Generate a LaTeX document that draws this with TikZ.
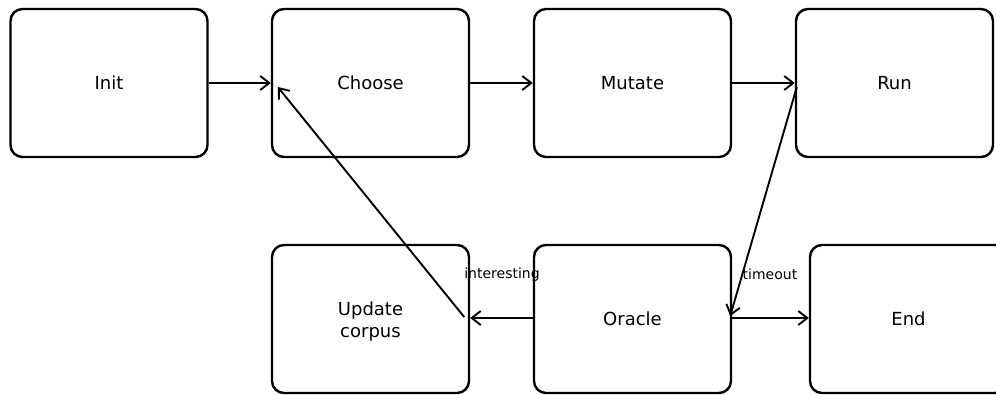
\documentclass[tikz,border=0pt]{standalone}
\usepackage{fontspec}
\setmainfont{DejaVu Sans}
\usetikzlibrary{arrows.meta}
\begin{document}
\begin{tikzpicture}[x=1pt,y=-1pt,
  box/.style={draw=black, line width=2.4pt, rounded corners=12pt, fill=white,
    minimum width=197pt, minimum height=148pt, inner sep=0pt, align=center,
    font=\fontsize{18}{22}\selectfont},
  flow/.style={line width=1.9pt, -{Straight Barb[length=9pt,width=14pt,line width=1.9pt]}},
  tag/.style={inner sep=0pt, font=\fontsize{14}{16}\selectfont}]
\useasboundingbox (0,0) rectangle (996,394);
\clip (0,0) rectangle (996,394);
% states
\node[box] (init)   at (109,83)    {Init};
\node[box] (choose) at (370.5,83)  {Choose};
\node[box] (mutate) at (632.5,83)  {Mutate};
\node[box] (run)    at (894.5,83)  {Run};
\node[box] (update) at (370.5,319) {};
\node[font=\fontsize{18}{22}\selectfont, align=center, inner sep=0pt] (updtext) at (370.5,321.5) {Update\\corpus};
\node[box] (oracle) at (632.5,319) {Oracle};
\node[box] (end)    at (908.5,319) {End};
% transitions
\draw[flow] (init.east) -- (choose.west);
\draw[flow] (choose.east) -- (mutate.west);
\draw[flow] (mutate.east) -- (run.west);
\draw[flow] ([shift={(2,4)}]run.west) -- ([shift={(-2,-3)}]oracle.east);
\draw[flow] ([yshift=1]oracle.west) -- ([yshift=1]update.east);
\draw[flow] ([yshift=1]oracle.east) -- ([yshift=1]end.west);
\draw[flow] ([shift={(-6,-2)}]update.east) -- ([shift={(7,4)}]choose.west);
% edge labels
\node[tag] (lint) at (502,274.5) {interesting};
\node[tag] (ltim) at (770,274.5) {timeout};
\end{tikzpicture}
\end{document}
